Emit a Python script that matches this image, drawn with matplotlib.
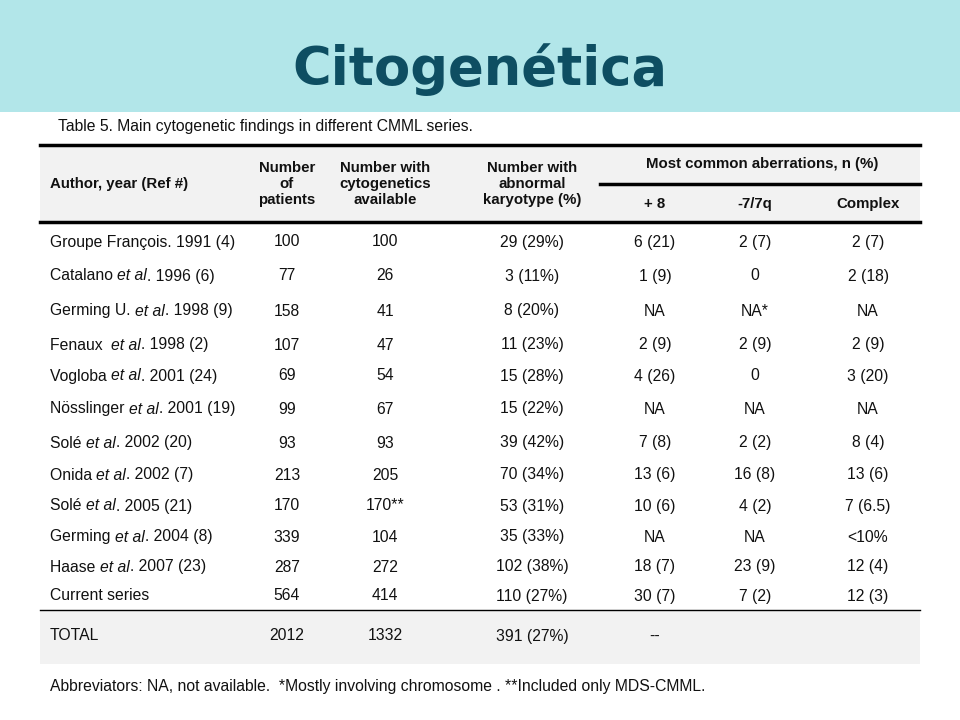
import matplotlib
matplotlib.use("Agg")
import matplotlib.pyplot as plt
from matplotlib.patches import Rectangle
from matplotlib.lines import Line2D

title = "Citogenética"
caption = "Table 5. Main cytogenetic findings in different CMML series."
footer = "Abbreviators: NA, not available.  *Mostly involving chromosome . **Included only MDS-CMML."
authors = [("Groupe François. 1991 (4)", "", ""),
           ("Catalano ", "et al", ". 1996 (6)"),
           ("Germing U. ", "et al", ". 1998 (9)"),
           ("Fenaux  ", "et al", ". 1998 (2)"),
           ("Vogloba ", "et al", ". 2001 (24)"),
           ("Nösslinger ", "et al", ". 2001 (19)"),
           ("Solé ", "et al", ". 2002 (20)"),
           ("Onida ", "et al", ". 2002 (7)"),
           ("Solé ", "et al", ". 2005 (21)"),
           ("Germing ", "et al", ". 2004 (8)"),
           ("Haase ", "et al", ". 2007 (23)"),
           ("Current series", "", "")]
patients = ["100", "77", "158", "107", "69", "99", "93", "213", "170", "339", "287", "564"]
cyto = ["100", "26", "41", "47", "54", "67", "93", "205", "170**", "104", "272", "414"]
abnormal = ["29 (29%)", "3 (11%)", "8 (20%)", "11 (23%)", "15 (28%)", "15 (22%)", "39 (42%)",
            "70 (34%)", "53 (31%)", "35 (33%)", "102 (38%)", "110 (27%)"]
plus8 = ["6 (21)", "1 (9)", "NA", "2 (9)", "4 (26)", "NA", "7 (8)", "13 (6)", "10 (6)", "NA", "18 (7)", "30 (7)"]
m7 = ["2 (7)", "0", "NA*", "2 (9)", "0", "NA", "2 (2)", "16 (8)", "4 (2)", "NA", "23 (9)", "7 (2)"]
complex_ = ["2 (7)", "2 (18)", "NA", "2 (9)", "3 (20)", "NA", "8 (4)", "13 (6)", "7 (6.5)", "<10%", "12 (4)", "12 (3)"]
total = ["TOTAL", "2012", "1332", "391 (27%)", "--", "", ""]

W, H = 960, 720
fig = plt.figure(figsize=(9.6, 7.2), dpi=100)
ax = fig.add_axes([0, 0, 1, 1])
ax.set_xlim(0, W); ax.set_ylim(H, 0); ax.axis("off")
F = "Liberation Sans"; fs = 11.3; col = "#111111"

ax.add_patch(Rectangle((0, 0), W, 112, color="#b2e6e9", lw=0))
ax.text(480, 70, title, ha="center", va="center", fontsize=38, fontweight="bold",
        color="#0e4e62", family="DejaVu Sans")
ax.text(58, 127, caption, ha="left", va="center", fontsize=fs, family=F, color=col)

ax.add_patch(Rectangle((40, 145), 880, 77, color="#f2f2f2", lw=0))
ax.add_patch(Rectangle((40, 611), 880, 53, color="#f2f2f2", lw=0))
ax.add_line(Line2D([40, 920], [145, 145], color="black", lw=2.5))
ax.add_line(Line2D([40, 920], [222, 222], color="black", lw=2.5))
ax.add_line(Line2D([600, 920], [184, 184], color="black", lw=2.5))
ax.add_line(Line2D([40, 920], [610, 610], color="black", lw=1))

hb = dict(fontsize=fs - 0.5, family=F, fontweight="bold", color=col, va="center")
ax.text(50, 184, "Author, year (Ref #)", ha="left", **hb)
ax.text(287, 184, "Number\nof\npatients", ha="center", linespacing=1.15, **hb)
ax.text(385, 184, "Number with\ncytogenetics\navailable", ha="center", linespacing=1.15, **hb)
ax.text(532, 184, "Number with\nabnormal\nkaryotype (%)", ha="center", linespacing=1.15, **hb)
ax.text(762, 164, "Most common aberrations, n (%)", ha="center", **hb)
xs = [655, 755, 868]
for x, s in zip(xs, ["+ 8", "-7/7q", "Complex"]):
    ax.text(x, 204, s, ha="center", **hb)

rows_y = [242, 276, 311, 345, 376, 409, 443, 475, 506, 537, 567, 596]
cols = [patients, cyto, abnormal, plus8, m7, complex_]
cx = [287, 385, 532, 655, 755, 868]
fig.canvas.draw()
r = fig.canvas.get_renderer()
inv = ax.transData.inverted()
for i, y in enumerate(rows_y):
    x = 50
    for j, part in enumerate(authors[i]):
        if not part:
            continue
        t = ax.text(x, y, part, ha="left", va="center", fontsize=fs, family=F, color=col,
                    style="italic" if j == 1 else "normal")
        bb = t.get_window_extent(renderer=r)
        x = inv.transform((bb.x1, bb.y0))[0]
    for c, vals in zip(cx, cols):
        ax.text(c, y, vals[i], ha="center", va="center", fontsize=fs, family=F, color=col)

ax.text(50, 636, total[0], ha="left", va="center", fontsize=fs, family=F, color=col)
for c, s in zip(cx, total[1:]):
    ax.text(c, 636, s, ha="center", va="center", fontsize=fs, family=F, color=col)
ax.text(50, 686, footer, ha="left", va="center", fontsize=fs, family=F, color=col)

fig.savefig("out.png", dpi=100)
